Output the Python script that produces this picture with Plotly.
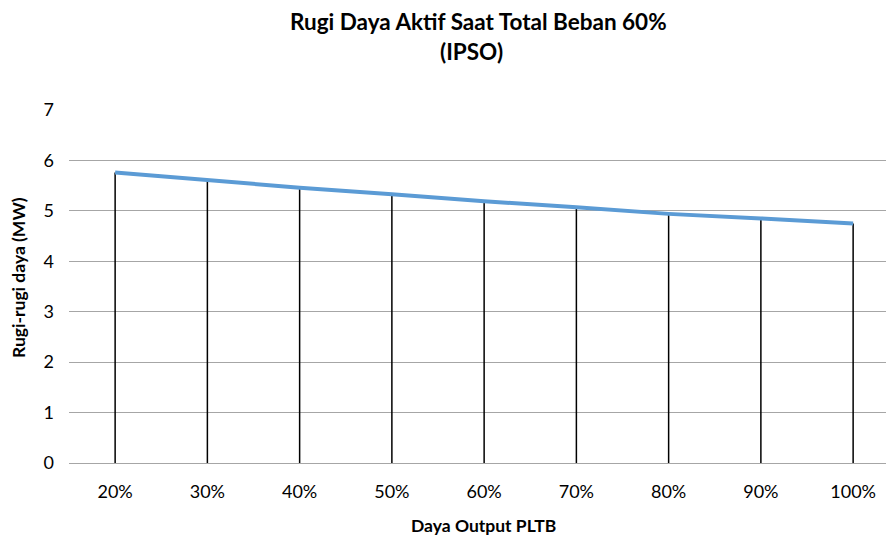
import plotly.graph_objects as go

categories = ["20%", "30%", "40%", "50%", "60%", "70%", "80%", "90%", "100%"]
losses_mw = [5.76, 5.61, 5.46, 5.33, 5.19, 5.07, 4.94, 4.85, 4.75]
y_ticks = [0, 1, 2, 3, 4, 5, 6, 7]

FONT = "Lato, Carlito, Calibri, 'Open Sans', sans-serif"

# drop lines built from the data
drop_x, drop_y = [], []
for c, v in zip(categories, losses_mw):
    drop_x += [c, c, None]
    drop_y += [0, v, None]

fig = go.Figure()
fig.add_trace(go.Scatter(x=drop_x, y=drop_y, mode="lines",
                         line=dict(color="#000000", width=1.5),
                         hoverinfo="skip", showlegend=False))
fig.add_trace(go.Scatter(x=categories, y=losses_mw, mode="lines",
                         line=dict(color="#5B9BD5", width=4),
                         showlegend=False))

W, H = 886, 536
L, R, T, B = 69, 0, 110, 536 - 463
fig.update_layout(
    width=W, height=H,
    margin=dict(l=L, r=R, t=T, b=B),
    paper_bgcolor="white", plot_bgcolor="white",
    font=dict(family=FONT, size=18, color="#000000"),
    xaxis=dict(type="category", categoryorder="array", categoryarray=categories,
               range=[-0.5, -0.5 + (W - L) / 92.25], automargin=False,
               showgrid=False, showline=False, zeroline=False,
               ticks="", tickfont=dict(size=18), ticklabelstandoff=16),
    yaxis=dict(range=[0, 7], tickvals=y_ticks, showgrid=True, automargin=False,
               gridcolor="#A6A6A6", gridwidth=1, zeroline=True,
               zerolinecolor="#A6A6A6", zerolinewidth=1,
               showline=False, ticks="", tickfont=dict(size=18),
               ticklabelstandoff=14),
    annotations=[
        dict(text="<b>Rugi Daya Aktif Saat Total Beban 60%</b>", x=478, y=536 - 21,
             font=dict(size=22.5)),
        dict(text="<b>(IPSO)</b>", x=471, y=536 - 52,
             font=dict(size=22.5)),
        dict(text="<b>Daya Output PLTB</b>", x=484, y=536 - 525,
             font=dict(size=17.5)),
        dict(text="<b>Rugi-rugi daya (MW)</b>", x=18, y=536 - 278, textangle=-90,
             font=dict(size=17.5)),
    ],
)
# convert pixel annotation coordinates to paper fractions
for a in fig.layout.annotations:
    a.x = (a.x - L) / (W - L - R)
    a.y = (a.y - B) / (H - T - B)
    a.xref = "paper"
    a.yref = "paper"
    a.xanchor = "center"
    a.yanchor = "middle"
    a.showarrow = False

fig.write_html("out.html", config={"displayModeBar": False},
               post_script="document.body.style.margin='0';document.body.style.overflow='hidden';")
